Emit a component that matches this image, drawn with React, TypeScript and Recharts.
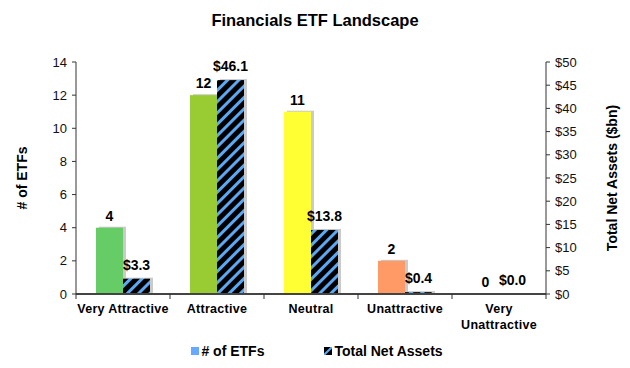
import { BarChart, Bar, XAxis, YAxis, Cell, LabelList } from "recharts";

const categories = ["Very Attractive", "Attractive", "Neutral", "Unattractive", "Very Unattractive"];
const etfCounts = [4, 12, 11, 2, 0];
const netAssets = [3.3, 46.1, 13.8, 0.4, 0.0];
const leftTicks = [0, 2, 4, 6, 8, 10, 12, 14];
const rightTicks = [0, 5, 10, 15, 20, 25, 30, 35, 40, 45, 50];

const CAT_COLORS = ['#66cc66', '#99cc33', '#ffff33', '#ff9966', '#ff3333'];
const STRIPE = '#5ba8f5';
const FONT = '"Liberation Sans", Arial, sans-serif';

const data = categories.map((name, i) => ({ name, etfs: etfCounts[i], assets: netAssets[i] }));

const ShadowBar = (props: any) => {
  const { x, y, width, height, fill } = props;
  if (width == null || height == null) return null;
  return (
    <g>
      <rect x={x + 3} y={y - 1} width={width} height={height + 1} fill="#b3b3b3" opacity={0.7} />
      <rect x={x} y={y} width={width} height={height} fill={fill} />
    </g>
  );
};

const CategoryTick = (props: any) => {
  const { x, y, payload, index } = props;
  const band = 94;
  const words = payload.value === "Very Unattractive" ? ["Very", "Unattractive"] : [payload.value];
  return (
    <g>
      <line x1={x - band / 2} y1={y - 8} x2={x - band / 2} y2={y - 3} stroke="#333" />
      {index === categories.length - 1 && (
        <line x1={x + band / 2} y1={y - 8} x2={x + band / 2} y2={y - 3} stroke="#333" />
      )}
      {words.map((w, i) => (
        <text key={i} x={x} y={y + 11 + i * 16} textAnchor="middle" fontFamily={FONT} fontWeight="bold" fontSize={12.5} fill="#000" letterSpacing={0.3}>
          {w}
        </text>
      ))}
    </g>
  );
};

const LegendBox = () => (
  <div style={{ position: 'absolute', top: 343, left: 0, width: 630, display: 'flex', justifyContent: 'center', gap: 60, fontFamily: FONT, fontWeight: 'bold', fontSize: 14, paddingLeft: 4, boxSizing: 'border-box' }}>
    <span style={{ display: 'flex', alignItems: 'center' }}>
      <svg width={8} height={8} style={{ marginRight: 2 }}><rect width={8} height={8} fill="#66aaff" /></svg>
      # of ETFs
    </span>
    <span style={{ display: 'flex', alignItems: 'center' }}>
      <svg width={8} height={8} style={{ marginRight: 2 }}>
        <rect width={8} height={8} fill="#000" />
        <path d="M0 8 L8 0" stroke={STRIPE} strokeWidth={2} />
      </svg>
      Total Net Assets
    </span>
  </div>
);

export default function App() {
  return (
    <div style={{ position: 'absolute', left: 0, top: 0, width: 630, height: 368, background: '#fff' }}>
      <div style={{ position: 'absolute', top: 11, width: 630, textAlign: 'center', fontFamily: FONT, fontWeight: 'bold', fontSize: 16.5 }}>
        Financials ETF Landscape
      </div>
      <BarChart width={630} height={368} data={data} margin={{ top: 62, right: 34, left: 20, bottom: 0 }} barGap={0} barSize={27}>
        <defs>
          <pattern id="hatch" patternUnits="userSpaceOnUse" width={8} height={8} patternTransform="rotate(45)">
            <rect width={8} height={8} fill="#000" />
            <rect x={0} width={3} height={8} fill={STRIPE} />
          </pattern>
        </defs>
        <XAxis dataKey="name" height={74} tickLine={false} axisLine={{ stroke: '#444', strokeWidth: 2 }} tick={<CategoryTick />} interval={0} />
        <YAxis
          yAxisId="left"
          domain={[0, 14]}
          ticks={leftTicks}
          interval={0}
          width={56}
          tickSize={4}
          tickMargin={5}
          axisLine={{ stroke: '#333' }}
          tickLine={{ stroke: '#333' }}
          tick={{ fontFamily: FONT, fontSize: 13, fill: '#111' }}
          label={{ value: '# of ETFs', angle: -90, position: 'center', dx: -26, style: { fontFamily: FONT, fontWeight: 'bold', fontSize: 14, fill: '#000' } }}
        />
        <YAxis
          yAxisId="right"
          orientation="right"
          domain={[0, 50]}
          ticks={rightTicks}
          interval={0}
          width={50}
          tickSize={4}
          tickMargin={5}
          axisLine={{ stroke: '#333' }}
          tickLine={{ stroke: '#333' }}
          tickFormatter={(v: number) => `$${v}`}
          tick={{ fontFamily: FONT, fontSize: 13, fill: '#111' }}
          label={{ value: 'Total Net Assets ($bn)', angle: -90, position: 'center', dx: 41, style: { fontFamily: FONT, fontWeight: 'bold', fontSize: 14, fill: '#000' } }}
        />
        <Bar yAxisId="left" dataKey="etfs" name="# of ETFs" fill="#66aaff" shape={<ShadowBar />} isAnimationActive={false}>
          {data.map((d, i) => (
            <Cell key={`c-${i}`} fill={CAT_COLORS[i]} />
          ))}
          <LabelList dataKey="etfs" position="top" offset={7} style={{ fontFamily: FONT, fontWeight: 'bold', fontSize: 14, fill: '#000' }} />
        </Bar>
        <Bar yAxisId="right" dataKey="assets" name="Total Net Assets" fill="url(#hatch)" shape={<ShadowBar />} isAnimationActive={false}>
          <LabelList dataKey="assets" position="top" offset={9} formatter={(v: any) => `$${Number(v).toFixed(1)}`} style={{ fontFamily: FONT, fontWeight: 'bold', fontSize: 14, fill: '#000' }} />
        </Bar>
      </BarChart>
      <LegendBox />
    </div>
  );
}
